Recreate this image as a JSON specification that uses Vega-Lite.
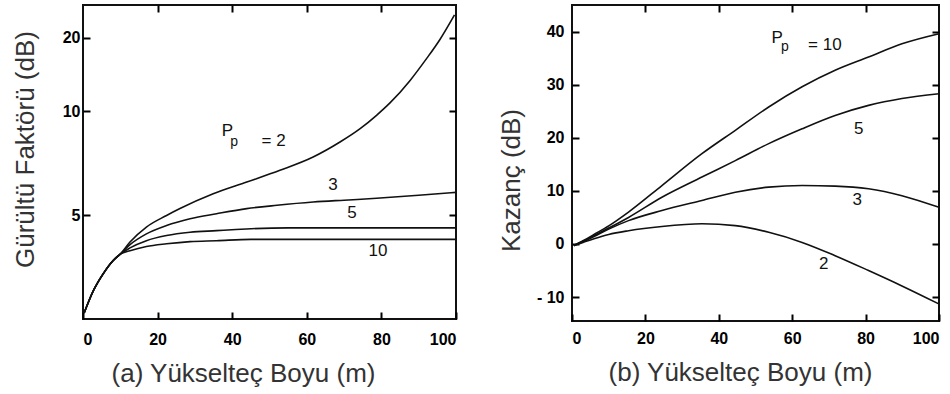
{
  "$schema": "https://vega.github.io/schema/vega-lite/v6.json",
  "background": "white",
  "padding": {"left": 10, "top": 3, "right": 5, "bottom": 5},
  "config": {
    "view": {"stroke": "#111", "strokeWidth": 2},
    "font": "Liberation Sans",
    "axis": {
      "grid": false, "domain": false, "ticks": true, "zindex": 2, "tickColor": "#000", "tickOpacity": 1, "tickWidth": 2, "tickSize": 7, "offset": -7,
      "labelFont": "Liberation Sans", "labelFontSize": 16, "labelFontWeight": "bold", "labelColor": "#000",
      "titleFont": "Liberation Sans", "titleFontSize": 26, "titleFontWeight": "normal", "titleColor": "#333"
    },
    "concat": {"spacing": 36}
  },
  "datasets": {
    "noise": [
      {"Pp": 2, "x": 0.3, "y": 3.08}, {"Pp": 2, "x": 2.8, "y": 3.41}, {"Pp": 2, "x": 5.4, "y": 3.69}, {"Pp": 2, "x": 8.1, "y": 3.94}, {"Pp": 2, "x": 10, "y": 4.07},
      {"Pp": 2, "x": 12.6, "y": 4.33}, {"Pp": 2, "x": 17, "y": 4.69}, {"Pp": 2, "x": 22.4, "y": 5.0}, {"Pp": 2, "x": 26, "y": 5.2}, {"Pp": 2, "x": 34.9, "y": 5.67},
      {"Pp": 2, "x": 43.9, "y": 6.09}, {"Pp": 2, "x": 52.8, "y": 6.56}, {"Pp": 2, "x": 61.7, "y": 7.16}, {"Pp": 2, "x": 68.9, "y": 7.94}, {"Pp": 2, "x": 74.3, "y": 8.75},
      {"Pp": 2, "x": 78.7, "y": 9.69}, {"Pp": 2, "x": 82.3, "y": 10.7}, {"Pp": 2, "x": 87.7, "y": 13.0}, {"Pp": 2, "x": 92.1, "y": 16.0}, {"Pp": 2, "x": 95.7, "y": 19.6},
      {"Pp": 2, "x": 99.6, "y": 26.3},
      {"Pp": 3, "x": 0.3, "y": 3.08}, {"Pp": 3, "x": 2.8, "y": 3.41}, {"Pp": 3, "x": 5.4, "y": 3.69}, {"Pp": 3, "x": 8.1, "y": 3.94}, {"Pp": 3, "x": 10, "y": 4.07},
      {"Pp": 3, "x": 12.6, "y": 4.27}, {"Pp": 3, "x": 17, "y": 4.52}, {"Pp": 3, "x": 22.4, "y": 4.73}, {"Pp": 3, "x": 28.7, "y": 4.91}, {"Pp": 3, "x": 35.8, "y": 5.05},
      {"Pp": 3, "x": 43.9, "y": 5.2}, {"Pp": 3, "x": 52, "y": 5.3}, {"Pp": 3, "x": 61.7, "y": 5.4}, {"Pp": 3, "x": 70, "y": 5.46}, {"Pp": 3, "x": 78.7, "y": 5.52},
      {"Pp": 3, "x": 90, "y": 5.62}, {"Pp": 3, "x": 100, "y": 5.72},
      {"Pp": 5, "x": 0.3, "y": 3.08}, {"Pp": 5, "x": 2.8, "y": 3.41}, {"Pp": 5, "x": 5.4, "y": 3.69}, {"Pp": 5, "x": 8.1, "y": 3.94}, {"Pp": 5, "x": 10, "y": 4.07},
      {"Pp": 5, "x": 12.6, "y": 4.2}, {"Pp": 5, "x": 17, "y": 4.36}, {"Pp": 5, "x": 22.4, "y": 4.48}, {"Pp": 5, "x": 28.7, "y": 4.56}, {"Pp": 5, "x": 35.8, "y": 4.6},
      {"Pp": 5, "x": 41, "y": 4.63}, {"Pp": 5, "x": 55, "y": 4.67}, {"Pp": 5, "x": 100, "y": 4.67},
      {"Pp": 10, "x": 0.3, "y": 3.08}, {"Pp": 10, "x": 2.8, "y": 3.41}, {"Pp": 10, "x": 5.4, "y": 3.69}, {"Pp": 10, "x": 8.1, "y": 3.94}, {"Pp": 10, "x": 10, "y": 4.07},
      {"Pp": 10, "x": 12.6, "y": 4.14}, {"Pp": 10, "x": 17, "y": 4.23}, {"Pp": 10, "x": 22.4, "y": 4.29}, {"Pp": 10, "x": 28.7, "y": 4.34}, {"Pp": 10, "x": 35.8, "y": 4.36},
      {"Pp": 10, "x": 45, "y": 4.39}, {"Pp": 10, "x": 100, "y": 4.39}
    ],
    "gain": [
      {"Pp": 10, "x": 0.5, "y": -0.3}, {"Pp": 10, "x": 3, "y": 0.6}, {"Pp": 10, "x": 6, "y": 1.8}, {"Pp": 10, "x": 10, "y": 3.4}, {"Pp": 10, "x": 15.4, "y": 6.0},
      {"Pp": 10, "x": 24.5, "y": 11.0}, {"Pp": 10, "x": 35.4, "y": 17.0}, {"Pp": 10, "x": 44.5, "y": 21.4}, {"Pp": 10, "x": 53.6, "y": 25.8}, {"Pp": 10, "x": 62.7, "y": 29.6},
      {"Pp": 10, "x": 71.7, "y": 32.7}, {"Pp": 10, "x": 80.8, "y": 35.2}, {"Pp": 10, "x": 89.9, "y": 37.7}, {"Pp": 10, "x": 100, "y": 39.6},
      {"Pp": 5, "x": 0.5, "y": -0.3}, {"Pp": 5, "x": 3, "y": 0.5}, {"Pp": 5, "x": 6, "y": 1.6}, {"Pp": 5, "x": 10, "y": 3.0}, {"Pp": 5, "x": 15.4, "y": 5.0},
      {"Pp": 5, "x": 24.5, "y": 8.8}, {"Pp": 5, "x": 35.4, "y": 12.6}, {"Pp": 5, "x": 44.5, "y": 15.7}, {"Pp": 5, "x": 53.6, "y": 18.9}, {"Pp": 5, "x": 62.7, "y": 21.7},
      {"Pp": 5, "x": 71.7, "y": 24.2}, {"Pp": 5, "x": 80.8, "y": 26.1}, {"Pp": 5, "x": 89.9, "y": 27.4}, {"Pp": 5, "x": 100, "y": 28.3},
      {"Pp": 3, "x": 0.5, "y": -0.3}, {"Pp": 3, "x": 3, "y": 0.4}, {"Pp": 3, "x": 6, "y": 1.4}, {"Pp": 3, "x": 10, "y": 2.8}, {"Pp": 3, "x": 15.4, "y": 4.4},
      {"Pp": 3, "x": 24.5, "y": 6.3}, {"Pp": 3, "x": 35.4, "y": 8.2}, {"Pp": 3, "x": 44.5, "y": 9.75}, {"Pp": 3, "x": 53.6, "y": 10.7}, {"Pp": 3, "x": 62.7, "y": 11.0},
      {"Pp": 3, "x": 71.7, "y": 10.9}, {"Pp": 3, "x": 80.8, "y": 10.4}, {"Pp": 3, "x": 89.9, "y": 9.1}, {"Pp": 3, "x": 100, "y": 6.9},
      {"Pp": 2, "x": 0.5, "y": -0.3}, {"Pp": 2, "x": 3, "y": 0.3}, {"Pp": 2, "x": 6, "y": 1.0}, {"Pp": 2, "x": 10, "y": 1.8}, {"Pp": 2, "x": 15.4, "y": 2.5},
      {"Pp": 2, "x": 24.5, "y": 3.3}, {"Pp": 2, "x": 35.4, "y": 3.8}, {"Pp": 2, "x": 44.5, "y": 3.45}, {"Pp": 2, "x": 53.6, "y": 2.2}, {"Pp": 2, "x": 62.7, "y": 0.3},
      {"Pp": 2, "x": 71.7, "y": -2.2}, {"Pp": 2, "x": 80.8, "y": -5.0}, {"Pp": 2, "x": 89.9, "y": -7.9}, {"Pp": 2, "x": 100, "y": -11.3}
    ],
    "noiseLabels": [
      {"x": 38.7, "y": 8.58, "label": "P"},
      {"x": 51.1, "y": 7.98, "label": "= 2"},
      {"x": 67.0, "y": 5.97, "label": "3"},
      {"x": 72.1, "y": 5.06, "label": "5"},
      {"x": 79.1, "y": 4.14, "label": "10"}
    ],
    "noiseSub": [{"x": 40.5, "y": 7.92, "label": "p"}],
    "gainLabels": [
      {"x": 55.9, "y": 38.7, "label": "P"},
      {"x": 68.9, "y": 37.4, "label": "= 10"},
      {"x": 78.1, "y": 21.7, "label": "5"},
      {"x": 77.7, "y": 8.2, "label": "3"},
      {"x": 68.6, "y": -3.8, "label": "2"}
    ],
    "gainSub": [{"x": 58.0, "y": 37.0, "label": "p"}]
  },
  "hconcat": [
    {
      "width": 373, "height": 314,
      "layer": [
        {
          "data": {"name": "noise"},
          "mark": {"type": "line", "color": "#111", "strokeWidth": 1.6, "interpolate": "monotone"},
          "encoding": {
            "x": {"field": "x", "type": "quantitative", "scale": {"domain": [0, 100], "nice": false, "zero": false},
                  "axis": {"orient": "bottom", "values": [0, 20, 40, 60, 80, 100], "title": "(a) Yükselteç Boyu (m)", "labelPadding": 12,
                           "titleX": 160, "titleY": 69, "titleAlign": "center", "titleBaseline": "alphabetic"}},
            "y": {"field": "y", "type": "quantitative", "scale": {"type": "pow", "exponent": -0.5, "domain": [3, 30], "nice": false, "zero": false},
                  "axis": {"orient": "left", "values": [5, 10, 20], "title": "Gürültü Faktörü (dB)", "labelPadding": 3,
                           "titleX": -57, "titleY": 144, "titleAlign": "center", "titleBaseline": "alphabetic", "titleAngle": -90}},
            "detail": {"field": "Pp", "type": "nominal"}
          }
        },
        {
          "data": {"name": "noiseLabels"},
          "mark": {"type": "text", "fontSize": 17, "color": "#111", "align": "center", "baseline": "middle"},
          "encoding": {
            "x": {"field": "x", "type": "quantitative", "axis": {"orient": "top", "values": [20, 40, 60, 80], "labels": false, "title": null}},
            "y": {"field": "y", "type": "quantitative", "axis": {"orient": "right", "values": [5, 10, 20], "labels": false, "title": null}},
            "text": {"field": "label"}
          }
        },
        {
          "data": {"name": "noiseSub"},
          "mark": {"type": "text", "fontSize": 14, "color": "#111", "align": "center", "baseline": "middle"},
          "encoding": {
            "x": {"field": "x", "type": "quantitative", "axis": null},
            "y": {"field": "y", "type": "quantitative", "axis": null},
            "text": {"field": "label"}
          }
        }
      ],
      "resolve": {"axis": {"x": "independent", "y": "independent"}}
    },
    {
      "width": 367, "height": 316,
      "layer": [
        {
          "data": {"name": "gain"},
          "mark": {"type": "line", "color": "#111", "strokeWidth": 1.6, "interpolate": "monotone"},
          "encoding": {
            "x": {"field": "x", "type": "quantitative", "scale": {"domain": [0, 100], "nice": false, "zero": false},
                  "axis": {"orient": "bottom", "values": [0, 20, 40, 60, 80, 100], "title": "(b) Yükselteç Boyu (m)", "labelPadding": 9,
                           "titleX": 168, "titleY": 66, "titleAlign": "center", "titleBaseline": "alphabetic"}},
            "y": {"field": "y", "type": "quantitative", "scale": {"domain": [-14.5, 45], "nice": false, "zero": false},
                  "axis": {"orient": "left", "values": [-10, 0, 10, 20, 30, 40], "title": "Kazanç (dB)", "labelPadding": 8,
                           "labelExpr": "datum.value < 0 ? '- ' + abs(datum.value) : datum.label",
                           "titleX": -60, "titleY": 175, "titleAlign": "center", "titleBaseline": "alphabetic", "titleAngle": -90}},
            "detail": {"field": "Pp", "type": "nominal"}
          }
        },
        {
          "data": {"name": "gainLabels"},
          "mark": {"type": "text", "fontSize": 17, "color": "#111", "align": "center", "baseline": "middle"},
          "encoding": {
            "x": {"field": "x", "type": "quantitative", "axis": {"orient": "top", "values": [20, 40, 60, 80], "labels": false, "title": null}},
            "y": {"field": "y", "type": "quantitative", "axis": {"orient": "right", "values": [-10, 0, 10, 20, 30, 40], "labels": false, "title": null}},
            "text": {"field": "label"}
          }
        },
        {
          "data": {"name": "gainSub"},
          "mark": {"type": "text", "fontSize": 14, "color": "#111", "align": "center", "baseline": "middle"},
          "encoding": {
            "x": {"field": "x", "type": "quantitative", "axis": null},
            "y": {"field": "y", "type": "quantitative", "axis": null},
            "text": {"field": "label"}
          }
        }
      ],
      "resolve": {"axis": {"x": "independent", "y": "independent"}}
    }
  ]
}
